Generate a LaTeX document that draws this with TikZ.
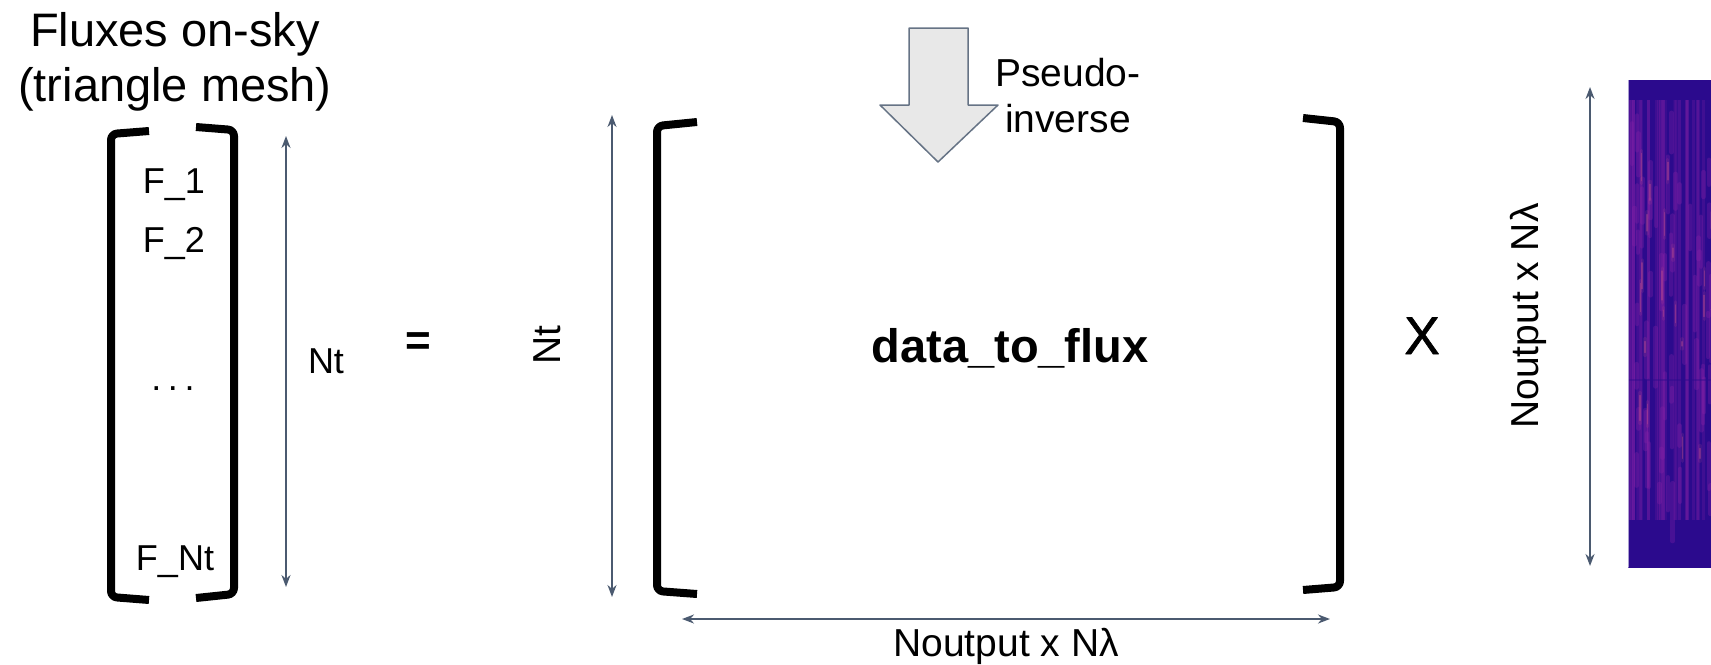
\documentclass[tikz,border=0pt]{standalone}
\usepackage{fontspec}
\setmainfont{Liberation Sans}
\newfontfamily\heavyfont[FakeBold=1.2]{Liberation Sans}
\usetikzlibrary{arrows.meta}
\definecolor{slate}{HTML}{4B5A70}
\definecolor{plA}{HTML}{2B0A8D}
\definecolor{plB}{HTML}{4E0FA6}
\definecolor{plC}{HTML}{8A22A8}
\definecolor{plD}{HTML}{C24E8E}
\begin{document}
\begin{tikzpicture}[line cap=round,line join=round,>={Stealth[length=6pt,width=4.5pt]},x=.5pt,y=-.5pt,
		brk/.style={line width=4pt,line cap=butt,rounded corners=3pt},
		dim/.style={<->,draw=slate,line width=1pt},
		lbl/.style={font=\fontsize{18}{21}\selectfont},
		mid/.style={font=\fontsize{19.5}{23}\selectfont}]
		\useasboundingbox (0,0) rectangle (1711,664);
		% flux vector
		\node[font=\fontsize{23.5}{27.5}\selectfont,align=center,inner sep=0] (title) at (175,62) {Fluxes on-sky\\(triangle mesh)};
		\draw[brk] (149,131)--(111,134)--(111,597)--(149,600);
		\draw[brk] (196,127)--(234,130)--(234,594)--(196,598);
		\node[lbl,anchor=base] (f1) at (174,193) {F\_1};
		\node[lbl,anchor=base] (f2) at (174,252) {F\_2};
		\node[lbl,anchor=base] (fdots) at (173,390) {.\kern3.3pt.\kern3.3pt.};
		\node[lbl,anchor=base] (fnt) at (175,570) {F\_Nt};
		\coordinate (ntT) at (286,136); \coordinate (ntB) at (286,587);
		\draw[dim] (ntT)--(ntB);
		\node[lbl,anchor=base] (ntlbl) at (326,373) {Nt};
		\node[font=\fontsize{22}{26}\selectfont\bfseries,anchor=base] (eq) at (418,355) {=};
		% data_to_flux matrix
		\node[mid,rotate=90,anchor=base] (ntrot) at (560,345) {Nt};
		\coordinate (mT) at (612,115); \coordinate (mB) at (612,597);
		\draw[dim] (mT)--(mB);
		\draw[brk] (697,122)--(657,126)--(657,591)--(697,594);
		\draw[brk] (1303,118)--(1340,122)--(1340,587)--(1303,590);
		\draw[draw=slate!85,fill=gray!18,line width=.75pt] (909,28)--(968,28)--(968,105)--(998,105)--(938,162)--(880,105)--(909,105)--cycle;
		\node[mid,align=center,inner sep=0] (pinv) at (1068,96) {Pseudo-\\inverse};
		\node[font=\fontsize{23.5}{28}\selectfont\bfseries,anchor=base] (dtf) at (1010,362) {data\_to\_flux};
		\coordinate (hL) at (682,619); \coordinate (hR) at (1330,619);
		\draw[dim] (hL)--(hR);
		\node[mid,anchor=base] (nout) at (1006,656) {Noutput x Nλ};
		\node[font=\fontsize{26.5}{30}\selectfont\heavyfont,anchor=base] (times) at (1422,354) {X};
		% data image
		\node[mid,rotate=90,anchor=base] (noutrot) at (1538,316) {Noutput x Nλ};
		\coordinate (dT) at (1590,87); \coordinate (dB) at (1590,566);
		\draw[dim] (dT)--(dB);
		\begin{scope}
			\clip (1628,80) rectangle (1711,567);
			\shade[top color=plA,middle color=plB,bottom color=plA] (1628,80) rectangle (1711,567);
			\pgfmathsetseed{42}
			\foreach \k in {1,...,30}{
				\pgfmathsetmacro\sx{1628+84*rnd}
				\pgfmathsetmacro\so{.1+.25*rnd}
				\draw[plC,line width=1.5pt,opacity=\so,line cap=butt] (\sx,100)--(\sx,520);
			}
			\foreach \k in {1,...,60}{
				\pgfmathsetmacro\sx{1630+82*rnd}
				\pgfmathsetmacro\sy{110+380*rnd}
				\pgfmathsetmacro\sl{15+45*rnd}
				\draw[plC,line width=2.2pt,opacity=.3] (\sx,\sy)--++(0,\sl);
			}
			\foreach \k in {1,...,20}{
				\pgfmathsetmacro\sx{1630+82*rnd}
				\pgfmathsetmacro\sy{150+300*rnd}
				\pgfmathsetmacro\sl{10+25*rnd}
				\draw[plD,line width=1.6pt,opacity=.15] (\sx,\sy)--++(0,\sl);
				\draw[plD,line width=.7pt,opacity=.4] (\sx,\sy+3)--++(0,\sl-6);
			}
			\draw[plA,opacity=.4,line width=1pt] (1628,93)--(1711,93) (1628,380)--(1711,380);
			\draw[white,opacity=.6,line width=.5pt] (1628.5,80)--(1628.5,567);
		\end{scope}
	\end{tikzpicture}
\end{document}
